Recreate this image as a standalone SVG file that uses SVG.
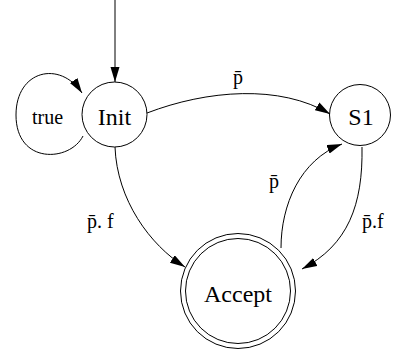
<svg xmlns="http://www.w3.org/2000/svg" width="394" height="353" viewBox="0 0 394 353">
<style>
.n{fill:none;stroke:#000;stroke-width:1}
.e{fill:none;stroke:#000;stroke-width:1}
text{font-family:"Liberation Serif",Tinos,"Times New Roman",Times,"Nimbus Roman","Nimbus Roman No9 L",FreeSerif,"DejaVu Serif","Noto Serif",serif;fill:#000}
.nl{font-size:24px;text-anchor:middle}
.el{font-size:20px}
</style>
<defs>
<marker id="ah" markerUnits="userSpaceOnUse" markerWidth="16" markerHeight="10" refX="15" refY="4.5" orient="auto">
<path d="M0,0 L15,4.5 L0,9 z" fill="#000"/>
</marker>
</defs>
<rect width="394" height="353" fill="#fff"/>
<g id="edges">
<path class="e" d="M115,0 L115,82" marker-end="url(#ah)"/>
<path class="e" d="M83,136 C70,162 16,165 16,115 C16,70 60,60 82,93" marker-end="url(#ah)"/>
<path class="e" d="M147,113 C207,90 280,84 330,114" marker-end="url(#ah)"/>
<path class="e" d="M115,147 C117,200 150,245 185,267" marker-end="url(#ah)"/>
<path class="e" d="M362,147 C363,205 348,245 302,269" marker-end="url(#ah)"/>
<path class="e" d="M281,248 C281,205 300,160 342,144" marker-end="url(#ah)"/>
<text class="el" x="47.5" y="124" text-anchor="middle">true</text>
<text class="el" x="233" y="84">p̄</text>
<text class="el" x="87" y="228">p̄. f</text>
<text class="el" x="362" y="228">p̄.f</text>
<text class="el" x="269" y="188">p̄</text>
</g>
<g id="Init">
<circle class="n" cx="114.5" cy="114.5" r="32.5"/>
<text class="nl" x="114.5" y="125">Init</text>
</g>
<g id="S1">
<circle class="n" cx="360" cy="115" r="30.5"/>
<text class="nl" x="361" y="125">S1</text>
</g>
<g id="Accept">
<circle class="n" cx="238" cy="291" r="57.5"/>
<circle class="n" cx="238" cy="291" r="52.5"/>
<text class="nl" x="238" y="302">Accept</text>
</g>
</svg>
